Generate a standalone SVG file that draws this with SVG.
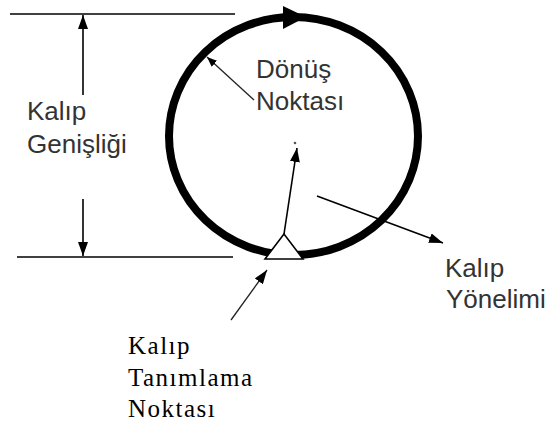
<svg xmlns="http://www.w3.org/2000/svg" width="550" height="424" viewBox="0 0 550 424">
<style>
.lbl{font-family:"Liberation Sans",Arial,sans-serif;font-size:26px;fill:#333}
.ser{font-family:"Liberation Serif","Times New Roman",serif;font-size:25px;fill:#000;letter-spacing:1.5px}
.ln{stroke:#000;stroke-width:1.6;fill:none}
.thin{stroke:#222;stroke-width:1.3;fill:none}
</style>
<defs>
<marker id="ah" viewBox="0 0 14 10" refX="14" refY="5" markerWidth="14" markerHeight="10" markerUnits="userSpaceOnUse" orient="auto">
<path d="M0,0 L14,5 L0,10 z" fill="#000"/>
</marker>
<marker id="ahs" viewBox="0 0 10 8" refX="10" refY="4" markerWidth="10" markerHeight="8" markerUnits="userSpaceOnUse" orient="auto">
<path d="M0,0 L10,4 L0,8 z" fill="#000"/>
</marker>
</defs>
<rect width="550" height="424" fill="#fff"/>
<g id="ring">
<ellipse cx="293.5" cy="136" rx="124.5" ry="119" fill="none" stroke="#000" stroke-width="8"/>
<path d="M283,6 L306,17 L283,29 z" fill="#000"/>
<circle cx="295" cy="143" r="1.3" fill="#555"/>
</g>
<g id="connectors">
<line class="ln" x1="10" y1="14" x2="235" y2="14"/>
<line class="ln" x1="17" y1="257" x2="233" y2="257"/>
<line class="ln" x1="83" y1="95" x2="83" y2="15" marker-end="url(#ah)"/>
<line class="ln" x1="83" y1="199" x2="83" y2="256" marker-end="url(#ah)"/>
<line class="thin" x1="254" y1="100" x2="207" y2="57" marker-end="url(#ahs)"/>
<line class="ln" x1="284" y1="234" x2="297" y2="148" marker-end="url(#ah)"/>
<line class="ln" x1="317" y1="196" x2="443" y2="243" marker-end="url(#ah)"/>
<line class="thin" x1="231" y1="320" x2="267" y2="270" marker-end="url(#ah)"/>
</g>
<g id="origin">
<polygon points="284,234 265,259 303,259" fill="#fff" stroke="#000" stroke-width="1.6"/>
</g>
<g id="label-width">
<text class="lbl" x="27" y="120">Kalıp</text>
<text class="lbl" x="27" y="153">Genişliği</text>
</g>
<g id="label-turn">
<text class="lbl" x="256" y="78">Dönüş</text>
<text class="lbl" x="256" y="110">Noktası</text>
</g>
<g id="label-orient">
<text class="lbl" x="445" y="277">Kalıp</text>
<text class="lbl" x="446" y="308">Yönelimi</text>
</g>
<g id="label-def">
<text class="ser" x="128" y="354">Kalıp</text>
<text class="ser" x="128" y="386">Tanımlama</text>
<text class="ser" x="128" y="417">Noktası</text>
</g>
</svg>
